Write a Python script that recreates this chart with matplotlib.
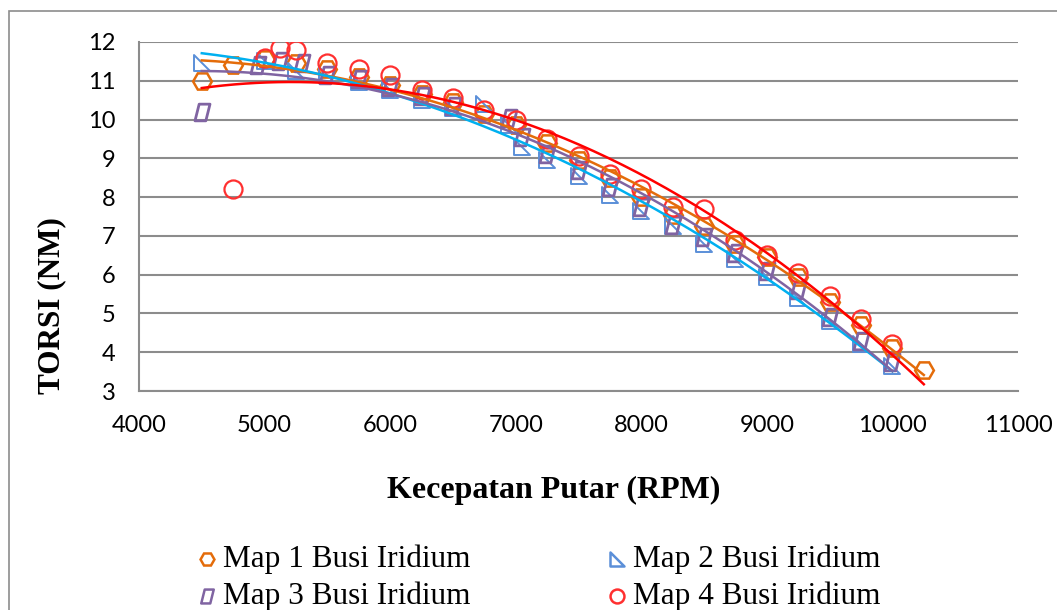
import numpy as np
import matplotlib.pyplot as plt
from matplotlib.path import Path
from matplotlib.lines import Line2D
from matplotlib.patches import Rectangle

# Map 1 Busi Iridium
rpm_map1 = [4500, 4750, 5000, 5250, 5500, 5750, 6000, 6250, 6500, 6750, 7000, 7250,
            7500, 7750, 8000, 8250, 8500, 8750, 9000, 9250, 9500, 9750, 10000, 10250]
torsi_map1 = [11.0, 11.4, 11.55, 11.45, 11.3, 11.1, 10.9, 10.65, 10.45, 10.15, 9.85, 9.4,
              8.95, 8.5, 8.0, 7.55, 7.25, 6.8, 6.45, 5.95, 5.3, 4.7, 4.1, 3.55]

# Map 2 Busi Iridium
rpm_map2 = [4500, 5000, 5250, 5500, 5750, 6000, 6250, 6500, 6750, 6950, 7050, 7250,
            7500, 7750, 8000, 8250, 8500, 8750, 9000, 9250, 9500, 9750, 10000]
torsi_map2 = [11.45, 11.5, 11.25, 11.15, 10.97, 10.75, 10.5, 10.3, 10.4, 9.85, 9.3, 8.95,
              8.55, 8.05, 7.65, 7.25, 6.8, 6.4, 5.95, 5.4, 4.8, 4.2, 3.65]

# Map 3 Busi Iridium
rpm_map3 = [4500, 4950, 5120, 5300, 5500, 5750, 6000, 6250, 6500, 6950, 7050, 7250,
            7500, 7750, 8000, 8250, 8500, 8750, 9000, 9250, 9500, 9750, 10000]
torsi_map3 = [10.2, 11.4, 11.5, 11.45, 11.15, 11.05, 10.85, 10.6, 10.35, 10.05, 9.55, 9.1,
              8.7, 8.27, 7.75, 7.27, 6.98, 6.57, 6.1, 5.6, 4.9, 4.3, 3.75]

# Map 4 Busi Iridium
rpm_map4 = [4750, 5000, 5120, 5250, 5500, 5750, 6000, 6250, 6500, 6750, 7000, 7250,
            7500, 7750, 8000, 8250, 8500, 8750, 9000, 9250, 9500, 9750, 10000]
torsi_map4 = [8.2, 11.6, 11.85, 11.8, 11.45, 11.3, 11.15, 10.75, 10.55, 10.25, 10.0, 9.5,
              9.05, 8.6, 8.2, 7.75, 7.7, 6.9, 6.5, 6.05, 5.45, 4.85, 4.2]

labels = ['Map 1 Busi Iridium', 'Map 2 Busi Iridium', 'Map 3 Busi Iridium', 'Map 4 Busi Iridium']
trend_range = [(4500, 10250), (4500, 10000), (4500, 10000), (4500, 10250)]

# marker shapes
tri = Path([(-1, 1), (-1, -1), (1, -1), (-1, 1)], [1, 2, 2, 79])
para = Path([(-0.9, -1), (0.4, -1), (0.9, 1), (-0.4, 1), (-0.9, -1)], [1, 2, 2, 2, 79])

marker_col = ['#E46C0A', '#5B8FD8', '#8064A2', '#FF3030']
line_col = ['#E46C0A', '#00B0F0', '#8064A2', '#FF0000']
markers = ['H', tri, para, 'o']
msize = [13.5, 12, 12, 13]
medge = [1.8, 1.4, 2.0, 1.6]

W, H = 1057, 610
fig = plt.figure(figsize=(W / 100, H / 100), dpi=100)
fig.patches.append(Rectangle((9 / W, -0.1), 1.2, 1.1 - 11 / H, transform=fig.transFigure,
                             fill=False, edgecolor='#8C8C8C', linewidth=1.2))
ax = fig.add_axes([139 / W, 1 - 391 / H, (1018 - 139) / W, (391 - 42) / H])

xs = [rpm_map1, rpm_map2, rpm_map3, rpm_map4]
ys = [torsi_map1, torsi_map2, torsi_map3, torsi_map4]

for i in range(4):
    ax.plot(xs[i], ys[i], linestyle='none', marker=markers[i], markersize=msize[i],
            markerfacecolor='none', markeredgecolor=marker_col[i], markeredgewidth=medge[i],
            zorder=3)
for i in range(4):
    # polynomial trendline (order 2)
    c = np.polyfit(xs[i], ys[i], 2)
    xx = np.linspace(trend_range[i][0], trend_range[i][1], 200)
    ax.plot(xx, np.polyval(c, xx), color=line_col[i], linewidth=1.8, zorder=4)

ax.set_xlim(4000, 11000)
ax.set_ylim(3, 12)
ax.set_xticks(range(4000, 11001, 1000))
ax.set_yticks(range(3, 13))
ax.grid(axis='y', color='#8C8C8C', linewidth=1.5)
ax.set_axisbelow(True)
for s in ['top', 'right']:
    ax.spines[s].set_visible(False)
for s in ['left', 'bottom']:
    ax.spines[s].set_color('#8C8C8C')
    ax.spines[s].set_linewidth(1.5)
ax.tick_params(length=0, labelsize=17, pad=17)
for t in ax.get_xticklabels() + ax.get_yticklabels():
    t.set_fontfamily('Lato')

fig.text(52 / W, 1 - 306 / H, 'TORSI (NM)', rotation=90, ha='center', va='center',
         fontfamily='Liberation Serif', fontweight='bold', fontsize=22.5)
fig.text(554 / W, 1 - 490 / H, 'Kecepatan Putar (RPM)', ha='center', va='center',
         fontfamily='Liberation Serif', fontweight='bold', fontsize=23)

# legend, two columns
leg_x = [(207, 223), (617, 633), (207, 223), (617, 633)]
leg_y = [559, 559, 596, 596]
for i in range(4):
    mx, tx = leg_x[i]
    fig.add_artist(Line2D([mx / W], [1 - leg_y[i] / H], transform=fig.transFigure,
                          linestyle='none', marker=markers[i], markersize=10,
                          markerfacecolor='none', markeredgecolor=marker_col[i],
                          markeredgewidth=1.8))
    fig.text(tx / W, 1 - leg_y[i] / H, labels[i], ha='left', va='center',
             fontfamily='Liberation Serif', fontsize=22.5)

fig.savefig('out.png', dpi=100)
